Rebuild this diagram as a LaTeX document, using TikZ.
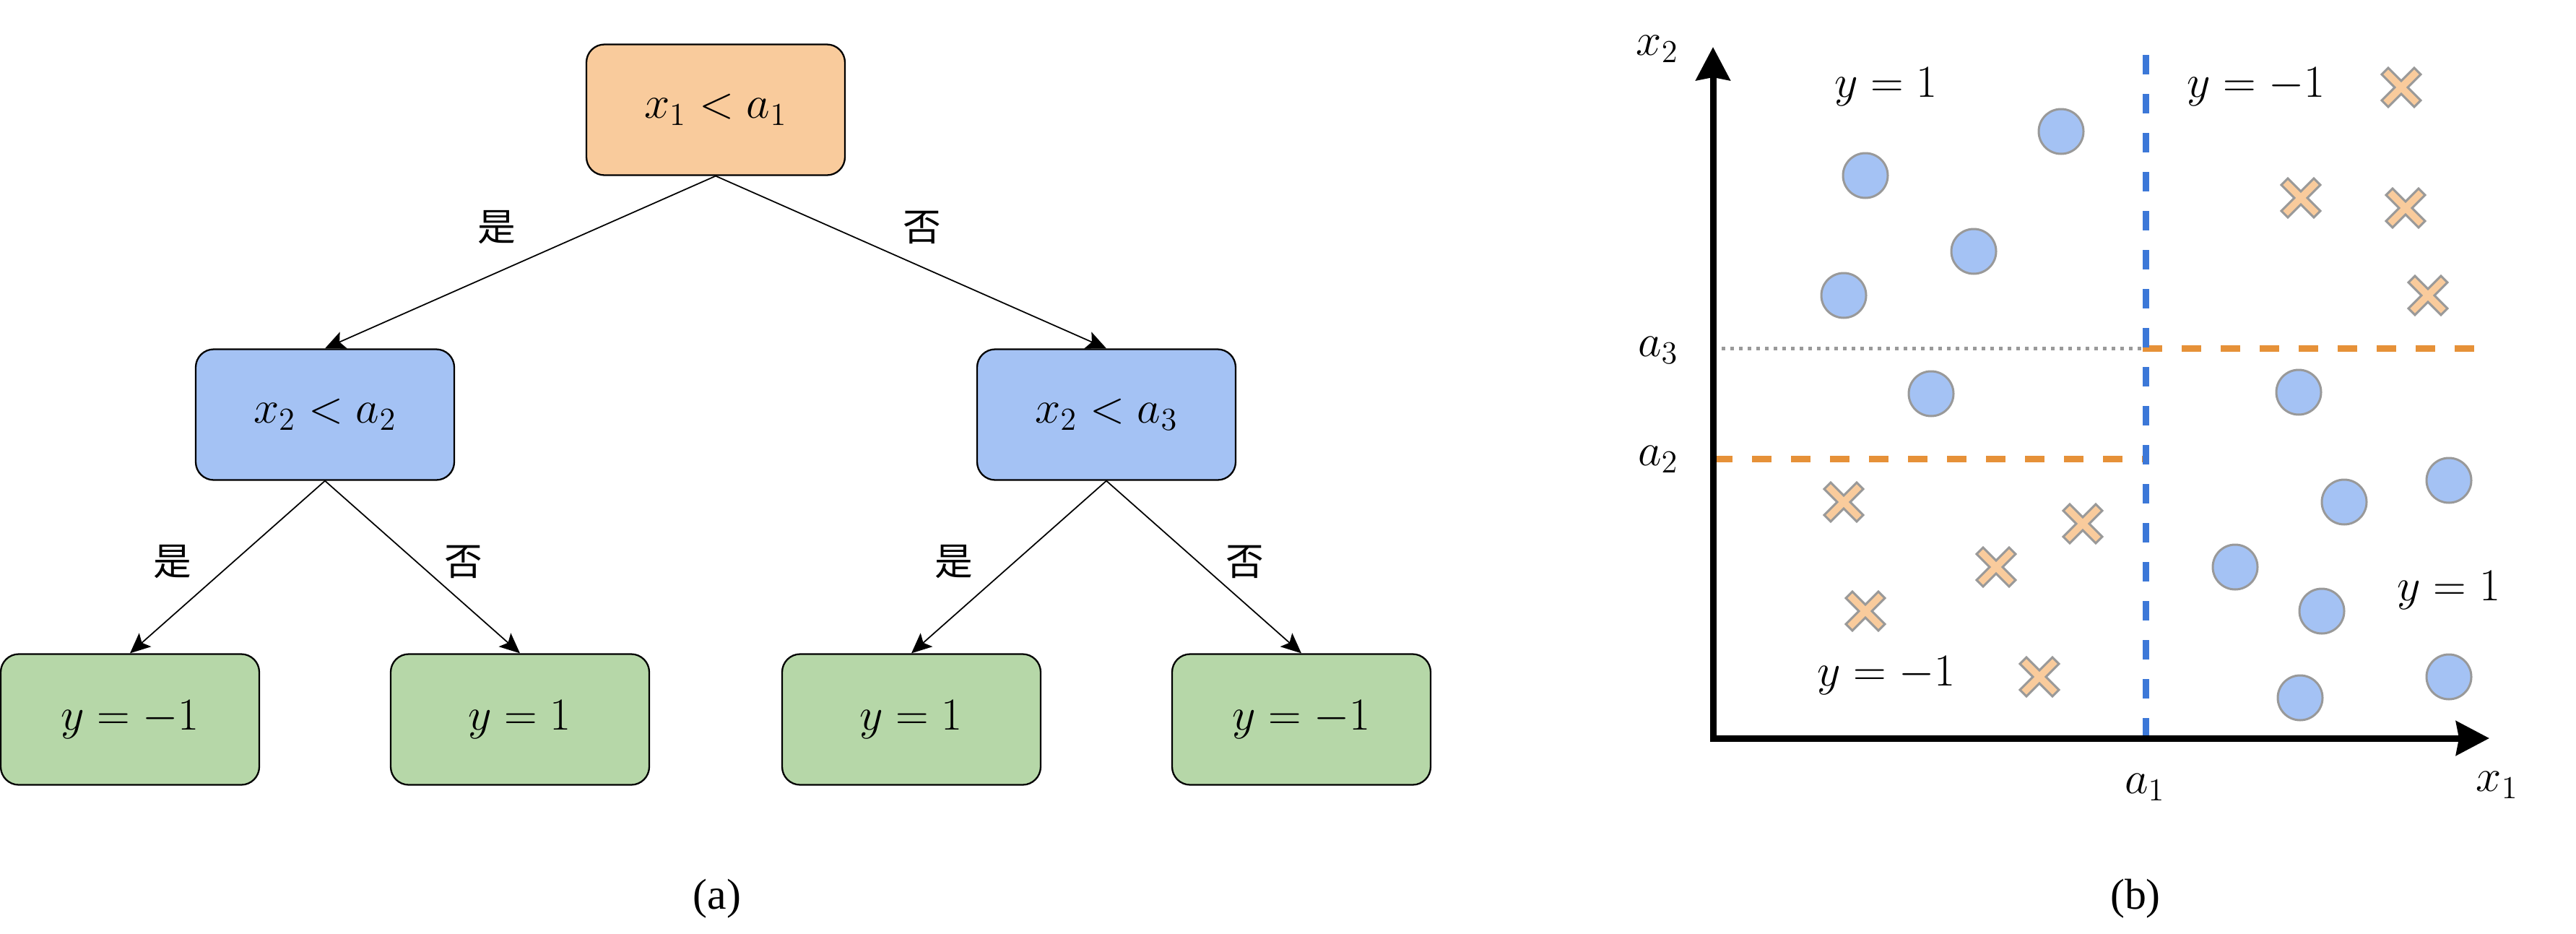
\RequirePackage{fix-cm}
\documentclass[tikz,border=0pt]{standalone}
\usepackage{amsmath}
\usepackage{fontspec}
\usepackage{tikz}
\usetikzlibrary{arrows.meta}
\newfontfamily\cjk{Noto Sans CJK SC}
\newfontfamily\capfont{Liberation Serif}

\definecolor{rootfill}{HTML}{F9CB9C}
\definecolor{splitfill}{HTML}{A4C2F4}
\definecolor{leaffill}{HTML}{B6D7A8}
\definecolor{cutblue}{HTML}{3C78D8}
\definecolor{cutorange}{HTML}{E69138}
\definecolor{markgrey}{HTML}{999999}

\tikzset{
    treebox/.style={draw, rounded corners=0.25cm, line width=0.65pt, minimum width=3.58cm, minimum height=1.81cm, font=\fontsize{18}{22}\selectfont},
    rootbox/.style={treebox, fill=rootfill},
    splitbox/.style={treebox, fill=splitfill},
    leafbox/.style={treebox, fill=leaffill},
    yesno/.style={font=\cjk\fontsize{15}{18}\selectfont, inner sep=0pt, midway},
    axlbl/.style={font=\fontsize{18}{22}\selectfont, inner sep=0pt},
    caplbl/.style={font=\capfont\fontsize{17}{20}\selectfont, inner sep=0pt},
    axisline/.style={line width=0.09cm, {Stealth[length=0.46cm,width=0.47cm,inset=0.04cm]}-{Stealth[length=0.46cm,width=0.47cm,inset=0.04cm]}},
    cutline/.style={line width=0.09cm, dash pattern=on 0.27cm off 0.27cm},
    bluedot/.style={draw=markgrey, fill=splitfill, line width=0.03cm},
    crossmark/.style={draw=markgrey, fill=rootfill, line width=0.03cm},
    xcross/.pic={\draw[crossmark] (0.27,0.18) -- (0.09,0) -- (0.27,-0.18) -- (0.18,-0.27) -- (0,-0.09) -- (-0.18,-0.27) -- (-0.27,-0.18) -- (-0.09,0) -- (-0.27,0.18) -- (-0.18,0.27) -- (0,0.09) -- (0.18,0.27) -- cycle;}
}

\begin{document}
\begin{tikzpicture}[
        level 1/.style={sibling distance=10.82cm},
        level 2/.style={sibling distance=5.40cm},
        level distance=4.22cm,
        edge from parent/.style={draw, line width=0.5pt, -{Stealth[length=0.28cm,width=0.25cm,inset=0.06cm]}},
        edge from parent path={(\tikzparentnode.south) -- (\tikzchildnode.north)}
        ]
        \useasboundingbox (0,0) rectangle (35.67,-12.93);

        % (a) decision tree
        \node[rootbox] (root) at (9.91,-1.52) {$x_1 < a_1$}
        child {node[splitbox] (lsplit) {$x_2 < a_2$}
        child {node[leafbox] (leafa) {$y = -1$}
        edge from parent node[yesno, xshift=-0.76cm, yshift=0.07cm] {是}}
        child {node[leafbox] (leafb) {$y = 1$}
        edge from parent node[yesno, xshift=0.57cm, yshift=0.07cm] {否}}
        edge from parent node[yesno, xshift=-0.33cm, yshift=0.48cm] {是}
        }
        child {node[splitbox] (rsplit) {$x_2 < a_3$}
        child {node[leafbox] (leafc) {$y = 1$}
        edge from parent node[yesno, xshift=-0.76cm, yshift=0.07cm] {是}}
        child {node[leafbox] (leafd) {$y = -1$}
        edge from parent node[yesno, xshift=0.57cm, yshift=0.07cm] {否}}
        edge from parent node[yesno, xshift=0.15cm, yshift=0.48cm] {否}
        };
        \node[caplbl] (capa) at (9.93,-12.44) {(a)};

        % (b) feature space
        \coordinate (origin) at (23.72,-10.22);
        \coordinate (xend) at (34.47,-10.22);
        \coordinate (yend) at (23.72,-0.65);
        \coordinate (cuttop) at (29.71,-0.76);
        \coordinate (cutbot) at (29.71,-10.22);
        \coordinate (a3left) at (23.72,-4.82);
        \coordinate (a3mid) at (29.67,-4.82);
        \coordinate (a3right) at (34.31,-4.82);
        \coordinate (a2left) at (23.72,-6.35);
        \coordinate (a2right) at (29.72,-6.35);

        \draw[markgrey, line width=0.05cm, dash pattern=on 0.05cm off 0.07cm] (a3left) -- (a3mid);
        \draw[cutline, cutorange] (a3mid) -- (a3right);
        \draw[cutline, cutorange] (a2left) -- (a2right);
        \draw[cutline, cutblue] (cuttop) -- (cutbot);
        \draw[axisline] (xend) -- (origin) -- (yend);

        \node[axlbl] (x2lbl) at (22.95,-0.68) {$x_2$};
        \node[axlbl] (x1lbl) at (34.58,-10.87) {$x_1$};
        \node[axlbl] (a1lbl) at (29.70,-10.90) {$a_1$};
        \node[axlbl] (a2lbl) at (22.96,-6.36) {$a_2$};
        \node[axlbl] (a3lbl) at (22.96,-4.85) {$a_3$};

        \node[axlbl] (toplft) at (26.12,-1.20) {$y = 1$};
        \node[axlbl] (toprgt) at (31.24,-1.20) {$y = -1$};
        \node[axlbl] (botrgt) at (33.91,-8.17) {$y = 1$};
        \node[axlbl] (botlft) at (26.12,-9.35) {$y = -1$};

        \draw[bluedot] (28.54,-1.82) circle (0.31);
        \draw[bluedot] (25.83,-2.43) circle (0.31);
        \draw[bluedot] (27.33,-3.48) circle (0.31);
        \draw[bluedot] (25.53,-4.09) circle (0.31);
        \draw[bluedot] (26.74,-5.45) circle (0.31);
        \draw[bluedot] (31.83,-5.43) circle (0.31);
        \draw[bluedot] (33.91,-6.65) circle (0.31);
        \draw[bluedot] (32.46,-6.95) circle (0.31);
        \draw[bluedot] (30.95,-7.85) circle (0.31);
        \draw[bluedot] (32.15,-8.46) circle (0.31);
        \draw[bluedot] (31.85,-9.66) circle (0.31);
        \draw[bluedot] (33.91,-9.37) circle (0.31);

        \pic at (33.25,-1.21) {xcross};
        \pic at (31.86,-2.74) {xcross};
        \pic at (33.31,-2.88) {xcross};
        \pic at (33.62,-4.09) {xcross};
        \pic at (25.53,-6.95) {xcross};
        \pic at (28.84,-7.25) {xcross};
        \pic at (27.64,-7.85) {xcross};
        \pic at (25.83,-8.46) {xcross};
        \pic at (28.24,-9.37) {xcross};

        \node[caplbl] (capb) at (29.57,-12.44) {(b)};
\end{tikzpicture}
\end{document}
